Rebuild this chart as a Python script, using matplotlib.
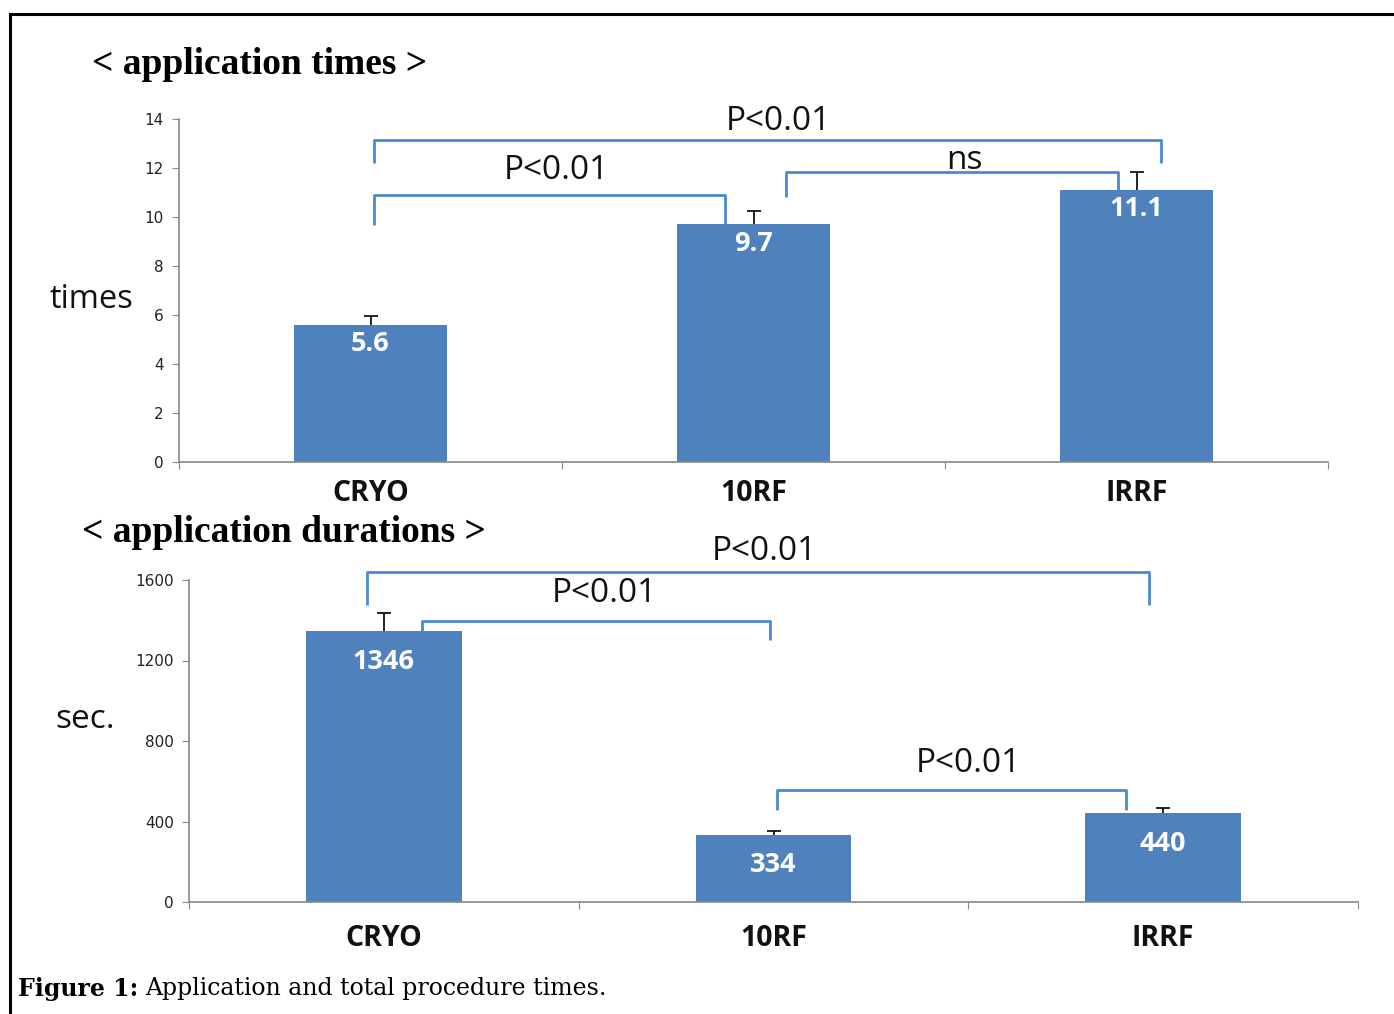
import matplotlib
matplotlib.use("Agg")
import matplotlib.pyplot as plt
from matplotlib.lines import Line2D

categories = ["CRYO", "10RF", "IRRF"]
times_vals = [5.6, 9.7, 11.1]
times_err = [0.36, 0.54, 0.74]
dur_vals = [1346, 334, 440]
dur_err = [90, 19, 27]
times_ticks = [0, 2, 4, 6, 8, 10, 12, 14]
dur_ticks = [0, 400, 800, 1200, 1600]

BAR = "#4F81BD"
BRK = "#4A8AD0"
W, H = 1394, 1014
fig = plt.figure(figsize=(W / 100, H / 100), dpi=100)

# frame
fig.add_artist(Line2D([10 / W, 1.0], [1 - 14 / H, 1 - 14 / H], color="black", lw=2.2))
fig.add_artist(Line2D([10 / W, 10 / W], [1 - 14 / H, 0], color="black", lw=2.2))


def ax_rect(l, r, t, b):
    return [l / W, 1 - b / H, (r - l) / W, (b - t) / H]


def style(ax, ticks, ylim):
    ax.set_xlim(-0.5, 2.5)
    ax.set_ylim(*ylim)
    ax.set_yticks(ticks)
    ax.set_yticklabels([str(t) for t in ticks], fontsize=11, family="DejaVu Sans", color="#222")
    ax.set_xticks([-0.5, 0.5, 1.5, 2.5])
    ax.set_xticklabels([])
    ax.tick_params(axis="x", length=5, color="#888")
    ax.tick_params(axis="y", length=5, color="#888", pad=6)
    for s in ["top", "right"]:
        ax.spines[s].set_visible(False)
    for s in ["left", "bottom"]:
        ax.spines[s].set_color("#888")
        ax.spines[s].set_linewidth(1.2)
    ax.patch.set_alpha(0)


def bracket(ax, x1, x2, yl, yh, yr):
    verts = [(x1, yl), (x1, yh), (x2, yh), (x2, yr)]
    ax.plot([v[0] for v in verts], [v[1] for v in verts], color=BRK, lw=2,
            solid_joinstyle="round", solid_capstyle="butt", clip_on=False, zorder=4)


def upper_errorbars(ax, x, vals, errs):
    _, caps, _ = ax.errorbar(x, vals, yerr=[[0] * len(vals), errs], fmt="none", ecolor="black",
                             elinewidth=1.2, capsize=5, capthick=1.2, zorder=3)
    if len(caps) == 2:
        caps[0].set_visible(False)


PFS = 24

# ---------- top chart ----------
ax1 = fig.add_axes(ax_rect(179, 1328, 119, 462))
x = list(range(len(categories)))
ax1.bar(x, times_vals, width=0.4, color=BAR, zorder=2)
upper_errorbars(ax1, x, times_vals, times_err)
style(ax1, times_ticks, (0, 14))
for xi, v in zip(x, times_vals):
    ax1.annotate(f"{v}", (xi, v), xytext=(0, -14), textcoords="offset points",
                 ha="center", va="center", color="white", fontsize=19.5, fontweight="bold",
                 family="Open Sans", zorder=5)
for xi, c in zip(x, categories):
    ax1.annotate(c, (xi, 0), xytext=(0, -23), textcoords="offset points", ha="center",
                 va="center", fontsize=20.5, fontweight="bold", family="Open Sans", color="#111")
ax1.text(91 / W, 1 - 300 / H, "times", transform=fig.transFigure, fontsize=23.5,
         family="Open Sans", ha="center", va="center", color="#111")
fig.text(92 / W, 1 - 65 / H, "< application times >", fontsize=27, fontweight="bold",
         family="Liberation Serif", ha="left", va="center")

bracket(ax1, 0.01, 0.925, 9.67, 10.9, 9.67)
ax1.text(0.485, 11.9, "P<0.01", fontsize=PFS, family="Open Sans", ha="center", va="center", color="#111")
bracket(ax1, 0.01, 2.065, 12.2, 13.14, 12.2)
ax1.text(1.065, 13.9, "P<0.01", fontsize=PFS, family="Open Sans", ha="center", va="center", color="#111")
bracket(ax1, 1.086, 1.953, 10.8, 11.84, 11.1)
ax1.text(1.55, 12.3, "ns", fontsize=PFS, family="Open Sans", ha="center", va="center", color="#111")

# ---------- bottom chart ----------
ax2 = fig.add_axes(ax_rect(189, 1358, 580, 902))
ax2.bar(x, dur_vals, width=0.4, color=BAR, zorder=2)
upper_errorbars(ax2, x, dur_vals, dur_err)
style(ax2, dur_ticks, (0, 1600))
for xi, v in zip(x, dur_vals):
    ax2.annotate(f"{v}", (xi, v), xytext=(0, -22), textcoords="offset points",
                 ha="center", va="center", color="white", fontsize=19.5, fontweight="bold",
                 family="Open Sans", zorder=5)
for xi, c in zip(x, categories):
    ax2.annotate(c, (xi, 0), xytext=(0, -26), textcoords="offset points", ha="center",
                 va="center", fontsize=20.5, fontweight="bold", family="Open Sans", color="#111")
ax2.text(85 / W, 1 - 720 / H, "sec.", transform=fig.transFigure, fontsize=24,
         family="Open Sans", ha="center", va="center", color="#111")
fig.text(82 / W, 1 - 532 / H, "< application durations >", fontsize=27, fontweight="bold",
         family="Liberation Serif", ha="left", va="center")

bracket(ax2, -0.044, 1.964, 1475, 1639, 1475)
ax2.text(0.977, 1744, "P<0.01", fontsize=PFS, family="Open Sans", ha="center", va="center", color="#111")
bracket(ax2, 0.097, 0.99, 1341, 1396, 1302)
ax2.text(0.567, 1535, "P<0.01", fontsize=PFS, family="Open Sans", ha="center", va="center", color="#111")
bracket(ax2, 1.01, 1.905, 457, 556, 457)
ax2.text(1.5, 690, "P<0.01", fontsize=PFS, family="Open Sans", ha="center", va="center", color="#111")

# caption
t = fig.text(18 / W, 1 - 989 / H, "Figure 1:", fontsize=17, fontweight="bold",
             family="DejaVu Serif", ha="left", va="center")
fig.canvas.draw()
bb = t.get_window_extent()
fig.text((bb.x1 + 7) / W, 1 - 989 / H, "Application and total procedure times.", fontsize=17,
         family="DejaVu Serif", ha="left", va="center")

fig.savefig("out.png", dpi=100, facecolor="white")
